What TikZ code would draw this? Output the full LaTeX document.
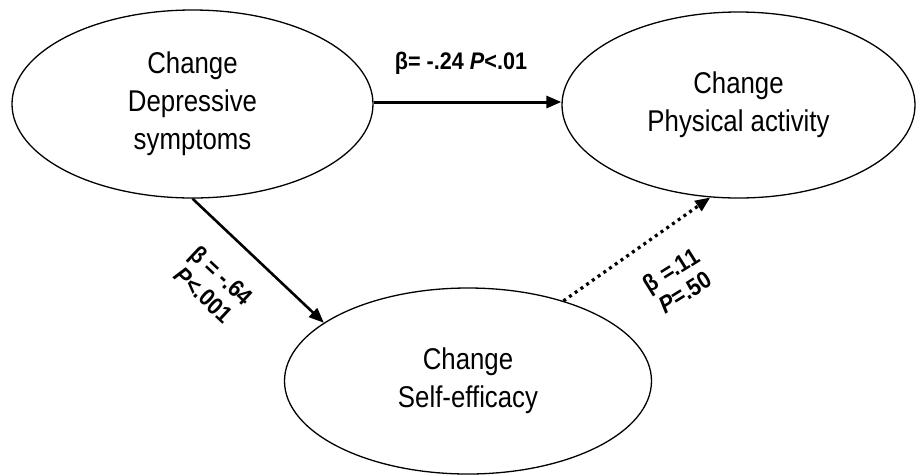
\documentclass[tikz,border=0pt]{standalone}
\usepackage{fontspec}
\setmainfont{Liberation Sans}
\newfontfamily\ovalfont[FakeStretch=0.86]{Liberation Sans}
\newfontfamily\lblfont[FakeStretch=0.9]{Liberation Sans}
\usetikzlibrary{shapes.geometric,arrows.meta}
\begin{document}
\begin{tikzpicture}[x=1pt,y=-1pt,
  oval/.style={draw,ellipse,line width=1.3pt,inner sep=0pt,align=center,
    font=\ovalfont\fontsize{30}{38}\selectfont},
  lbl/.style={font=\lblfont\bfseries\fontsize{24}{26.5}\selectfont,align=center,inner sep=1pt},
  arr/.style={-{Triangle[length=15pt,width=12pt]}},
]
\useasboundingbox (0,0) rectangle (917,475);
\node[oval,minimum width=361pt,minimum height=188pt] (e1) at (192.5,104)
  {Change\\Depressive\\symptoms};
\node[oval,minimum width=353pt,minimum height=186pt] (e2) at (738.5,105)
  {Change\\Physical activity};
\node[oval,minimum width=367pt,minimum height=186pt] (e3) at (468,381)
  {Change\\Self-efficacy};
\draw[arr,line width=3pt] (e1.east |- 0,102) -- (e2.west |- 0,102);
\draw[arr,line width=2.6pt] (e1.-90) -- (e3.158);
\draw[arr,line width=3.2pt,dash pattern=on 3pt off 4pt] (e3.40) -- (e2.-107);
\node[lbl] (l1) at (461,63) {β= -.24 \textit{P}<.01};
\node[lbl,rotate=-43] (l2) at (213,285) {β = -.64\\\textit{P}<.001};
\node[lbl,rotate=32] (l3) at (678,281) {β =.11\\\textit{P}=.50};
\end{tikzpicture}
\end{document}
